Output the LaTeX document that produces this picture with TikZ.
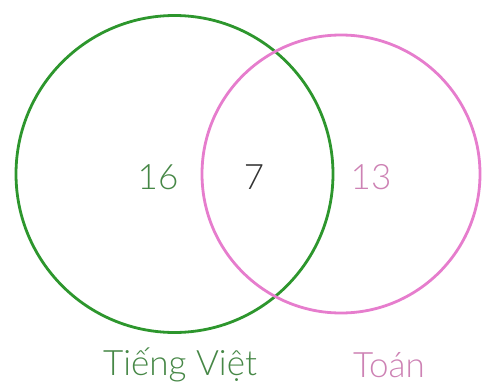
\documentclass[tikz,border=0pt]{standalone}
\usepackage{fontspec}
\setmainfont{Lato Light}
\definecolor{tvgreen}{RGB}{45,150,45}
\definecolor{tvtext}{RGB}{70,135,70}
\definecolor{tpink}{RGB}{230,125,205}
\definecolor{tptext}{RGB}{205,130,180}
\definecolor{midtext}{RGB}{50,50,50}
\tikzset{
  setcircle/.style={circle, draw, line width=2.8pt, inner sep=0pt},
  numlabel/.style={font=\fontsize{35}{38}\selectfont, inner sep=0pt, anchor=center},
  setlabel/.style={font=\fontsize{35}{38}\selectfont, inner sep=0pt, anchor=center},
}
\begin{document}
\begin{tikzpicture}[x=1pt,y=-1pt]
\useasboundingbox (0,0) rectangle (482,383);
\node[setcircle, draw=tvgreen, minimum size=317pt] (tv) at (174.5,174) {};
\node[setcircle, draw=tpink, minimum size=278pt] (toan) at (341,174) {};
\node[numlabel, text=tvtext] (n16) at (158,177) {16};
\node[numlabel, text=midtext] (n7) at (254,177) {7};
\node[numlabel, text=tptext] (n13) at (371,177) {13};
\node[setlabel, text=tvtext] (ltv) at (180,365) {Tiếng Việt};
\node[setlabel, text=tptext] (lto) at (389,365) {Toán};
\end{tikzpicture}
\end{document}
